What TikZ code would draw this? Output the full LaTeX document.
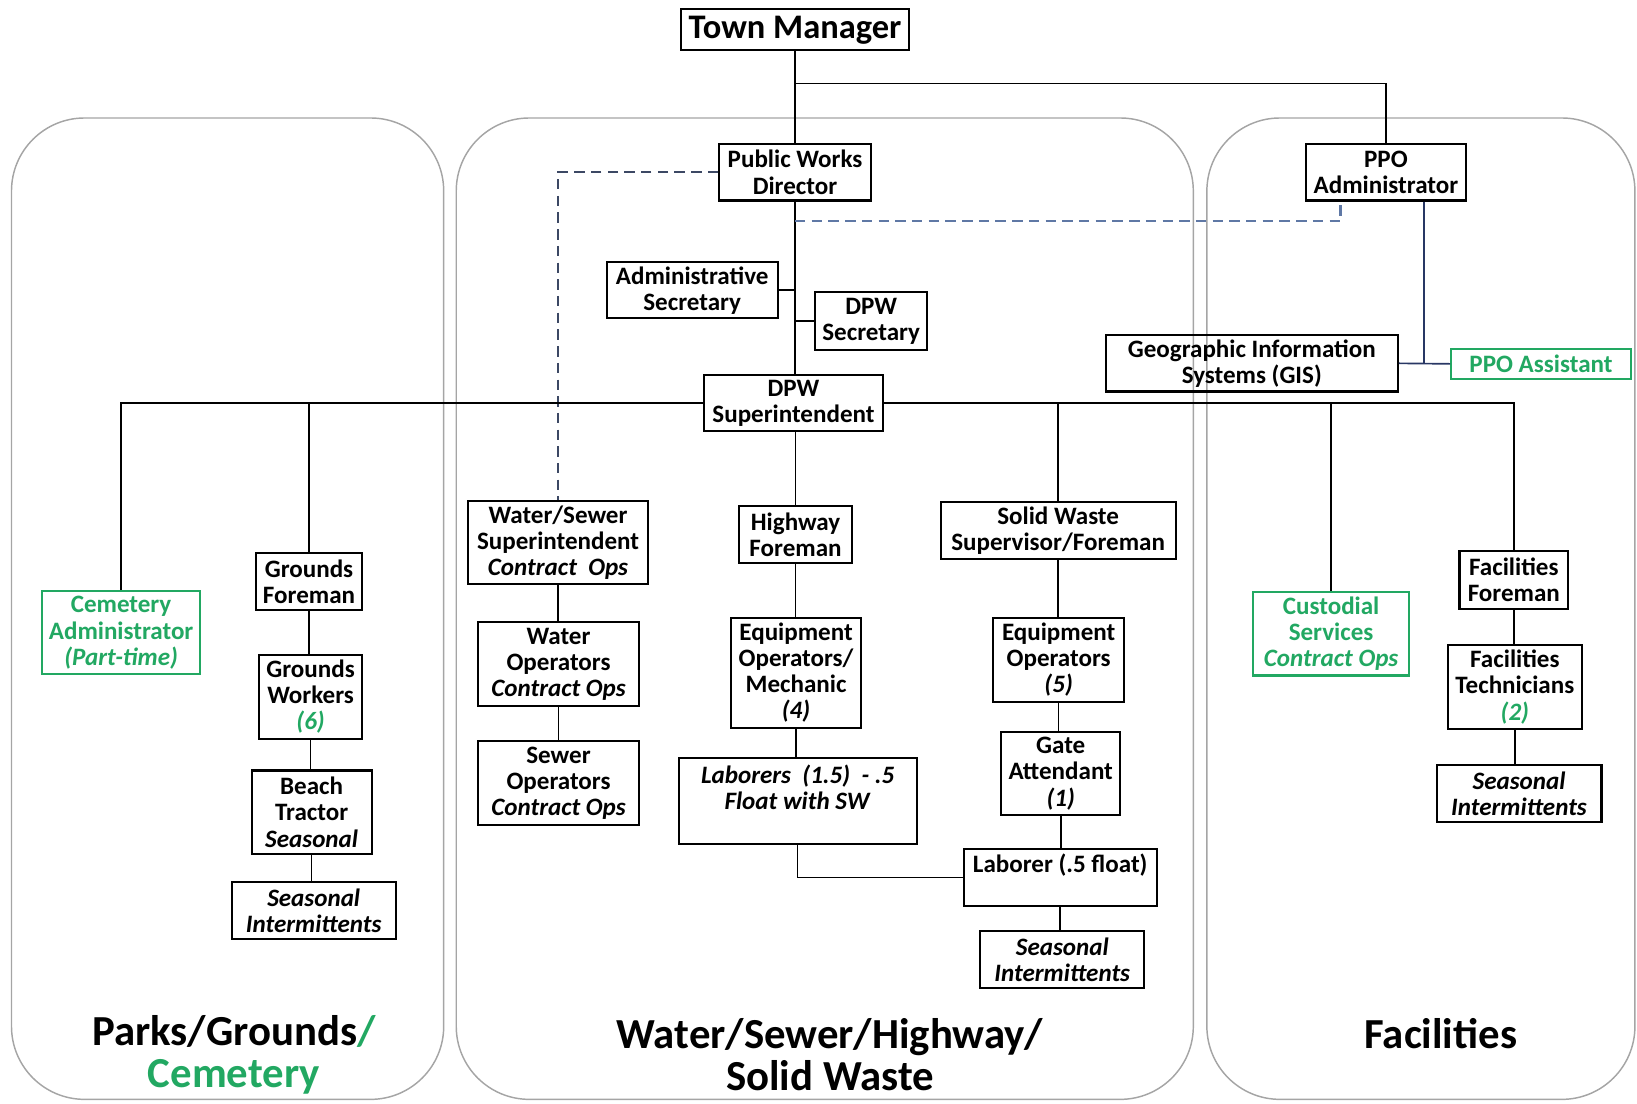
\documentclass[tikz,border=0pt]{standalone}
\usepackage{fontspec}
\setmainfont{Carlito}
\usetikzlibrary{calc}
\definecolor{grn}{RGB}{34,168,98}
\definecolor{framegray}{RGB}{165,165,165}
\definecolor{dashdark}{RGB}{60,72,100}
\definecolor{dashlight}{RGB}{95,120,165}
\definecolor{navy}{RGB}{40,55,100}
\tikzset{
  box/.style={draw, line width=1pt, align=center, inner sep=0pt,
    font=\bfseries\fontsize{12}{12.5}\selectfont},
  gbox/.style={box, draw=grn, text=grn},
  txt/.style={align=center, inner sep=0pt, font=\bfseries\fontsize{12}{12.5}\selectfont},
  sz/.style 2 args={minimum width=#1*0.5pt, minimum height=#2*0.5pt},
  title/.style={align=center, font=\bfseries\fontsize{20.5}{20}\selectfont},
  frame/.style={draw=framegray, line width=0.7pt, rounded corners=35pt},
  link/.style={line width=0.8pt},
}
\begin{document}
\begin{tikzpicture}[x=0.5pt, y=-0.5pt]
  \useasboundingbox (0,0) rectangle (1568,1057);
  % the three sections
  \draw[frame] (11,113) rectangle (425,1053);
  \draw[frame] (437,113) rectangle (1143,1053);
  \draw[frame] (1156,113) rectangle (1566,1053);

  % top
  \node[box, sz={219}{39}, font=\bfseries\fontsize{16.5}{18}\selectfont] (tm) at (761.5,28.5) {Town Manager};
  \node[box, sz={145}{54}] (pwd) at (761.5,165) {Public Works\\Director};
  \node[box, sz={153}{54}] (ppo) at (1327.5,165) {PPO\\Administrator};
  \node[box, sz={164}{54}] (adm) at (663,278) {Administrative\\Secretary};
  \node[box, sz={107}{55}] (dsec) at (834.5,307.5) {DPW\\Secretary};
  \node[box, sz={172}{54}] (dsup) at (760,386) {DPW\\Superintendent};
  \node[box, sz={280}{54}] (gis) at (1199,348) {Geographic Information\\Systems (GIS)};
  \node[gbox, sz={172}{29}] (ppoa) at (1476,348.5) {PPO Assistant};

  % parks / grounds / cemetery
  \node[gbox, sz={152}{80}] (cem) at (116,606) {Cemetery\\Administrator\\\textit{(Part-time)}};
  \node[box, sz={102}{54}] (gf) at (296,557) {Grounds\\Foreman};
  \node[box, sz={99}{81}] (gw) at (297.5,667.5) {Grounds\\Workers\\\textcolor{grn}{\textit{(6)}}};
  \node[box, sz={115}{80}] (bt) at (298.5,778) {Beach\\Tractor\\\textit{Seasonal}};
  \node[box, sz={157}{54}] (psi) at (300.5,872) {\textit{Seasonal}\\\textit{Intermittents}};

  % water / sewer / highway / solid waste
  \node[box, sz={173}{79}] (wss) at (534.5,519.5) {Water/Sewer\\Superintendent\\\textit{Contract~~Ops}};
  \node[box, sz={154}{80}] (wo) at (535,636) {Water\\Operators\\\textit{Contract Ops}};
  \node[box, sz={154}{80}] (so) at (535,750) {Sewer\\Operators\\\textit{Contract Ops}};
  \node[box, sz={108}{54}] (hwy) at (762,512) {Highway\\Foreman};
  \node[box, sz={125}{105}] (eom) at (762.5,644.5) {Equipment\\Operators/\\Mechanic\\\textit{(4)}};
  \node[box, sz={228}{82}] (lab) at (764,767) {};
  \node[txt] (labtxt) at (764,754) {\textit{Laborers~~(1.5)~~-~.5}\\\textit{Float with SW}};
  \node[box, sz={225}{54}] (swf) at (1013.5,508) {Solid Waste\\Supervisor/Foreman};
  \node[box, sz={126}{80}] (eo5) at (1014,632) {Equipment\\Operators\\\textit{(5)}};
  \node[box, sz={114}{80}] (gate) at (1016,741) {Gate\\Attendant\\\textit{(1)}};
  \node[box, sz={185}{55}] (lab5) at (1015.5,840.5) {};
  \node[txt] (lab5txt) at (1015.5,829) {Laborer (.5 float)};
  \node[box, sz={157}{54}] (msi) at (1017.5,919) {\textit{Seasonal}\\\textit{Intermittents}};

  % facilities
  \node[gbox, sz={150}{80}] (cus) at (1275,607) {Custodial\\Services\\\textit{Contract Ops}};
  \node[box, sz={104}{55}] (ff) at (1450,555.5) {Facilities\\Foreman};
  \node[box, sz={128}{80}] (ft) at (1451,658) {Facilities\\Technicians\\\textcolor{grn}{\textit{(2)}}};
  \node[box, sz={158}{54}] (fsi) at (1455,760) {\textit{Seasonal}\\\textit{Intermittents}};

  % section titles
  \node[title] (tpg) at (224,1010) {Parks/Grounds\textcolor{grn}{/}\\\textcolor{grn}{Cemetery}};
  \node[title] (tws) at (795,1010) {Water/Sewer/Highway/\\Solid Waste};
  \node[title] (tfac) at (1380,990) {Facilities};

  % connectors
  \coordinate (tmjoin) at (761.5,80);
  \coordinate (pwdtap) at (761.5,212);
  \coordinate (ppodash) at ($(ppo.south west)+(34,0)$);
  \coordinate (ppotap) at ($(ppo.south west)+(114,0)$);
  \draw[link] (tm.south) -- (pwd.north);
  \draw[link] (tmjoin) -| (ppo.north);
  \draw[link] (pwd.south) -- (pwd.south |- dsup.north);
  \draw[link] (adm.east) -- (adm.east -| pwd.south);
  \draw[link] (dsec.west) -- (dsec.west -| pwd.south);
  \draw[dashdark, line width=1.1pt, dash pattern=on 5pt off 3pt] (pwd.west) -| (wss.north);
  \draw[dashlight, line width=1pt, dash pattern=on 5pt off 3pt] (pwdtap) -| (ppodash);
  \draw[navy, link] (ppotap) -- (ppotap |- gis.east);
  \draw[navy, link] (gis.east) -- (ppoa.west);
  \draw[link] (dsup.west) -| (cem.north);
  \draw[link] (gf.north) -- (gf.north |- dsup.west);
  \draw[link] (dsup.east) -| (ff.north);
  \draw[link] (swf.north) -- (swf.north |- dsup.east);
  \draw[link] (cus.north) -- (cus.north |- dsup.east);
  \draw[link] (hwy.north |- dsup.south) -- (hwy.north);
  \foreach \a/\b in {gf/gw, gw/bt, bt/psi, wss/wo, wo/so, hwy/eom, eom/lab,
                     swf/eo5, eo5/gate, gate/lab5, lab5/msi, ff/ft, ft/fsi}
    \draw[link] (\a.south) -- (\a.south |- \b.north);
  \draw[link] (lab.south) |- (lab5.west);
\end{tikzpicture}
\end{document}
